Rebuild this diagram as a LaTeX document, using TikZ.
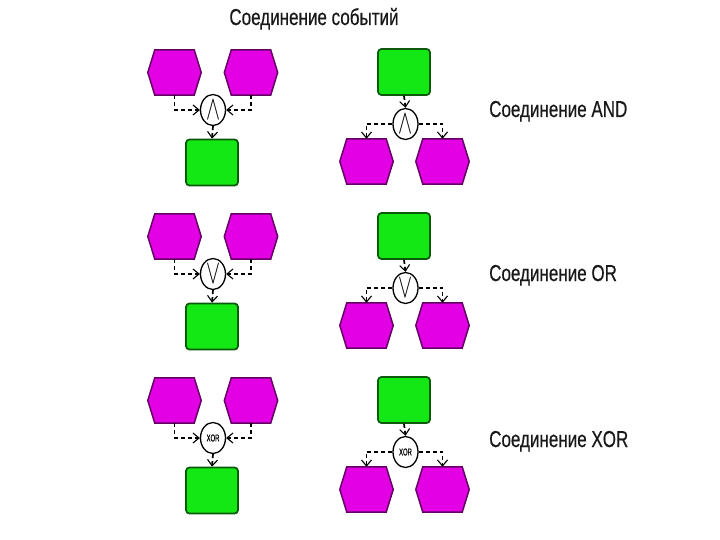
\documentclass[tikz,border=0pt]{standalone}
\usepackage{fontspec}
\setmainfont{Liberation Sans}[FakeStretch=0.74,FakeBold=0.5,AutoFakeBold=0.5]
\usetikzlibrary{arrows.meta,shapes.geometric}
\definecolor{evfill}{RGB}{228,0,228}
\definecolor{evline}{RGB}{100,0,100}
\definecolor{fnfill}{RGB}{20,232,20}
\definecolor{fnline}{RGB}{10,90,10}
\definecolor{txt}{RGB}{25,25,25}
\tikzset{
  evbox/.style={rectangle,draw=none,minimum width=53pt,minimum height=45pt,inner sep=0pt},
  hexfill/.style={fill=evfill,draw=evline,line width=1.5pt,line join=miter},
  fnbox/.style={rectangle,rounded corners=3.5pt,fill=fnfill,draw=fnline,line width=1.8pt,minimum width=52pt,minimum height=46pt,inner sep=0pt},
  conbox/.style={ellipse,draw=black,fill=white,line width=1.3pt,minimum width=25pt,minimum height=31pt,inner sep=0pt},
  conn/.style={black,line width=1.7pt,dash pattern=on 4pt off 3pt,-{Straight Barb[length=6pt,width=10pt,line width=1.1pt]}},
  lbl/.style={anchor=base west,text=txt,font=\fontsize{23}{23}\selectfont,inner sep=0pt},
}
\newcommand\evhex[3]{%
  \node[evbox] (#1) at (#2,#3) {};
  \filldraw[hexfill] ([xshift=7pt]#1.north west) -- ([xshift=-7pt]#1.north east) -- (#1.east)
    -- ([xshift=-7pt]#1.south east) -- ([xshift=7pt]#1.south west) -- (#1.west) -- cycle;
}
\newcommand\andsym{\resizebox{14pt}{19pt}{$\wedge$}}
\newcommand\orsym{\resizebox{14pt}{19pt}{$\vee$}}
\newcommand\xorsym{{\fontsize{10}{10}\selectfont\scalebox{0.8}[1]{XOR}}}
\newcommand\joinrow[3]{%
  \evhex{a#1}{174.5}{72.5+#2}
  \evhex{b#1}{251}{72.5+#2}
  \node[conbox] (c#1) at (213,110+#2) {#3};
  \node[fnbox] (g#1) at (212,162.5+#2) {};
  \draw[conn] (a#1.south) |- (c#1.west);
  \draw[conn] (b#1.south) |- (c#1.east);
  \draw[conn] (c#1.south) -- (g#1.north);
  \node[fnbox] (f#1) at (404,72+#2) {};
  \node[conbox] (d#1) at (405.5,124+#2) {#3};
  \evhex{p#1}{366.5}{161.5+#2}
  \evhex{q#1}{442.5}{161.5+#2}
  \draw[conn] (f#1.south) -- (d#1.north);
  \draw[conn] (d#1.west) -| (p#1.north);
  \draw[conn] (d#1.east) -| (q#1.north);
}
\begin{document}
\begin{tikzpicture}[x=1pt,y=-1pt]
\useasboundingbox[fill=white] (0,0) rectangle (720,540);
\node[anchor=base,text=txt,font=\fontsize{23}{23}\selectfont,inner sep=0pt] (title) at (314,25) {Соединение событий};
\joinrow{1}{0}{\andsym}
\joinrow{2}{164}{\orsym}
\joinrow{3}{328}{\xorsym}
\node[lbl] (l1) at (489,117) {Соединение AND};
\node[lbl] (l2) at (489,281) {Соединение OR};
\node[lbl] (l3) at (489,447) {Соединение XOR};
\end{tikzpicture}
\end{document}
